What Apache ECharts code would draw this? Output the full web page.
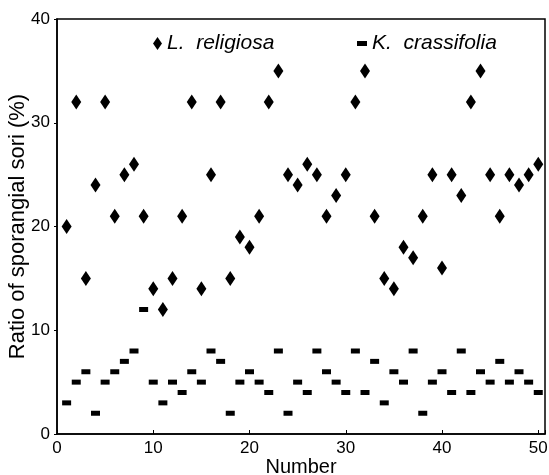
<!DOCTYPE html>
<html>
<head>
<meta charset="utf-8">
<script src="https://cdn.jsdelivr.net/npm/echarts@6/dist/echarts.min.js"></script>
<style>
html,body{margin:0;padding:0;background:#fff;}
#chart{width:549px;height:475px;}
</style>
</head>
<body>
<div id="chart"></div>
<script>
const numbers = [1,2,3,4,5,6,7,8,9,10,11,12,13,14,15,16,17,18,19,20,21,22,23,24,25,26,27,28,29,30,31,32,33,34,35,36,37,38,39,40,41,42,43,44,45,46,47,48,49,50];
const religiosa = [20,32,15,24,32,21,25,26,21,14, 12,15,21,32,14,25,32,15,19,18, 21,32,35,25,24,26,25,21,23,25, 32,35,21,15,14,18,17,21,25,16, 25,23,32,35,25,21,25,24,25,26];
const crassifolia = [3,5,6,2,5,6,7,8,12,5, 3,5,4,6,5,8,7,2,5,6, 5,4,8,2,5,4,8,6,5,4, 8,4,7,3,6,5,8,2,5,6, 4,8,4,6,5,7,5,6,5,4];
const xTicks = [0,10,20,30,40,50];
const yTicks = [0,10,20,30,40];
const seriesNames = ['L.  religiosa', 'K.  crassifolia'];
const xTitle = 'Number';
const yTitle = 'Ratio of sporangial sori (%)';

const FONT = '"Liberation Sans", Arial, sans-serif';
const chart = echarts.init(document.getElementById('chart'), null, {renderer: 'canvas'});
chart.setOption({
  backgroundColor: '#ffffff',
  animation: false,
  grid: {left: 57, right: 4, top: 19, bottom: 41, show: true, borderColor: '#000', borderWidth: 1.5,
         backgroundColor: 'transparent', containLabel: false, outerBoundsMode: 'none'},
  legend: [
    {data: [seriesNames[0]], left: 148, top: 28, icon: 'diamond', itemWidth: 9, itemHeight: 13,
     textStyle: {fontFamily: FONT, fontStyle: 'italic', fontSize: 21, color: '#000'}},
    {data: [seriesNames[1]], left: 352, top: 28, icon: 'rect', itemWidth: 10, itemHeight: 5,
     textStyle: {fontFamily: FONT, fontStyle: 'italic', fontSize: 21, color: '#000'}}
  ],
  xAxis: {
    type: 'value', min: 0, max: 50.7, interval: 10,
    name: xTitle, nameLocation: 'middle', nameGap: 23, nameMoveOverlap: false,
    nameTextStyle: {fontFamily: FONT, fontSize: 20, color: '#000'},
    axisLine: {show: true, lineStyle: {color: '#000', width: 1.5}},
    axisTick: {show: true, inside: true, length: 4, lineStyle: {color: '#000'}},
    axisLabel: {fontFamily: FONT, fontSize: 17, color: '#000', margin: 6,
      formatter: v => xTicks.indexOf(v) >= 0 ? String(v) : ''},
    splitLine: {show: false}
  },
  yAxis: {
    type: 'value', min: 0, max: 40, interval: 10,
    name: yTitle, nameLocation: 'middle', nameGap: 28, nameRotate: 90, nameMoveOverlap: false,
    nameTextStyle: {fontFamily: FONT, fontSize: 22, color: '#000'},
    axisLine: {show: true, lineStyle: {color: '#000', width: 1.5}},
    axisTick: {show: true, inside: false, length: 3, lineStyle: {color: '#000'}},
    axisLabel: {fontFamily: FONT, fontSize: 17, color: '#000', margin: 7,
      formatter: v => yTicks.indexOf(v) >= 0 ? String(v) : ''},
    splitLine: {show: false}
  },
  series: [
    {name: seriesNames[0], type: 'scatter', symbol: 'diamond', symbolSize: [10, 15],
     itemStyle: {color: '#000', opacity: 1},
     data: numbers.map((n, i) => [n, religiosa[i]])},
    {name: seriesNames[1], type: 'scatter', symbol: 'rect', symbolSize: [9, 5],
     itemStyle: {color: '#000', opacity: 1},
     data: numbers.map((n, i) => [n, crassifolia[i]])}
  ]
});
</script>
</body>
</html>
